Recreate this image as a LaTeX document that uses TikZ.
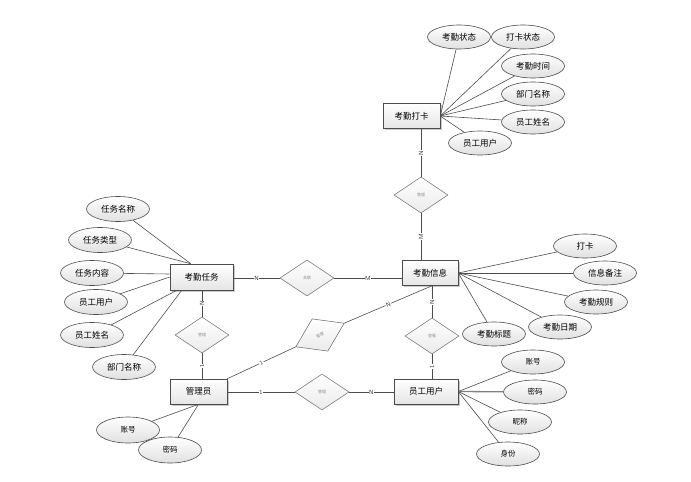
\documentclass[tikz,border=0pt]{standalone}
\usepackage{fontspec}
\setmainfont{Noto Sans CJK SC}
\usetikzlibrary{shapes.geometric,shadows,calc}
\begin{document}
\begin{tikzpicture}[x=1pt,y=-1pt,
  entity/.style={draw=black!70, line width=0.6pt, rectangle, minimum height=25pt, inner sep=0pt,
    top color=white, bottom color=black!10,
    drop shadow={shadow xshift=1.5pt,shadow yshift=-1.5pt,fill=black!35,opacity=0.6},
    font=\fontsize{8.5}{9}\selectfont},
  attr/.style={ellipse, draw=black!70, line width=0.6pt, minimum width=63pt, minimum height=24pt, inner sep=0pt,
    top color=white, bottom color=black!12, font=\fontsize{8.5}{9}\selectfont},
  sattr/.style={attr, font=\fontsize{7.5}{8}\selectfont},
  rel/.style={diamond, draw=black!60, line width=0.5pt, minimum width=54pt, minimum height=36pt, inner sep=0pt,
    top color=white, bottom color=black!8, font=\fontsize{4}{4}\selectfont, text=black!45},
  card/.style={fill=white, inner sep=0.6pt, font=\sffamily\fontsize{6}{6}\selectfont, text=black!80},
  conn/.style={draw=black!70, line width=0.6pt}
]
\useasboundingbox (0,0) rectangle (691,482);

% entities
\node[entity, minimum width=57pt] (kqdk) at (411.5,116) {考勤打卡};
\node[entity, minimum width=56pt] (kqxx) at (430,273) {考勤信息};
\node[entity, minimum width=63pt, minimum height=26pt] (kqrw) at (201.5,277) {考勤任务};
\node[entity, minimum width=57pt] (gly) at (198.5,391.5) {管理员};
\node[entity, minimum width=64pt] (ygyh) at (426,391.5) {员工用户};

% relationships
\node[rel] (d1) at (421,195) {管理};
\node[rel] (d2) at (307,278) {关联};
\node[rel] (d3) at (202,335) {管理};
\node[rel, rotate=26] (d4) at (320,335) {管理};
\node[rel] (d5) at (432,336) {查看};
\node[rel] (d6) at (322,392) {管理};

\coordinate (kqxxb) at ($(kqxx.south)+(2,0)$);

% relationship connectors
\draw[conn] (d1.north |- kqdk.south) -- node[card, rotate=90] {N} (d1.north);
\draw[conn] (d1.south) -- node[card, rotate=90] {M} (d1.south |- kqxx.north);
\draw[conn] (d2.west -| kqrw.east) -- node[card] {N} (d2.west);
\draw[conn] (d2.east) -- node[card] {M} (d2.east -| kqxx.west);
\draw[conn] (d3.north |- kqrw.south) -- node[card, rotate=90] {N} (d3.north);
\draw[conn] (d3.south) -- node[card, rotate=90] {1} (d3.south |- gly.north);
\draw[conn] (gly.north east) -- node[card, rotate=26.6] {1} (d4.west);
\draw[conn] (d4.east) -- node[card, rotate=23.4] {N} (kqxxb);
\draw[conn] (d5.north |- kqxx.south) -- node[card, rotate=90] {N} (d5.north);
\draw[conn] (d5.south) -- node[card, rotate=90] {1} (d5.south |- ygyh.north);
\draw[conn] (d6.west -| gly.east) -- node[card] {1} (d6.west);
\draw[conn] (d6.east) -- node[card] {N} (d6.east -| ygyh.west);

% attributes of 考勤打卡
\node[attr] (a1) at (459,37) {考勤状态};
\node[attr] (a2) at (523,37) {打卡状态};
\node[attr] (a3) at (533,66) {考勤时间};
\node[attr] (a4) at (533,94) {部门名称};
\node[attr] (a5) at (533,122) {员工姓名};
\node[attr] (a6) at (480,143) {员工用户};
\foreach \t in {a1,a2,a3,a4,a5,a6} \draw[conn] (kqdk.east) -- (\t);

% attributes of 考勤信息
\node[attr] (b1) at (585,246) {打卡};
\node[attr] (b2) at (605,273) {信息备注};
\node[attr] (b3) at (596,302) {考勤规则};
\node[attr] (b4) at (560,327) {考勤日期};
\node[attr] (b5) at (494,334) {考勤标题};
\foreach \t in {b1,b2,b3,b4,b5} \draw[conn] (kqxx.east) -- (\t);

% attributes of 考勤任务
\node[attr, minimum height=25pt] (c1) at (118,209) {任务名称};
\node[attr, minimum height=25pt] (c2) at (100,240) {任务类型};
\node[attr, minimum height=25pt] (c3) at (92,273) {任务内容};
\node[attr, minimum height=25pt] (c4) at (96,302) {员工用户};
\node[attr, minimum height=25pt] (c5) at (92,335) {员工姓名};
\node[attr, minimum height=25pt] (c6) at (124,367) {部门名称};
\coordinate (kqrwt) at ($(kqrw.north west)+(21,0)$);
\coordinate (kqrwl) at ($(kqrw.west)+(0,-3)$);
\coordinate (kqrwb1) at ($(kqrw.south west)+(7,0)$);
\coordinate (kqrwb2) at ($(kqrw.south west)+(12,0)$);
\draw[conn] (kqrwt) -- (c1);
\draw[conn] (kqrwt) -- (c2);
\draw[conn] (kqrwl) -- (c3);
\draw[conn] (kqrw.west) -- (c4);
\draw[conn] (kqrwb1) -- (c5);
\draw[conn] (kqrwb2) -- (c6);

% attributes of 管理员
\node[sattr, minimum height=26pt] (e1) at (128,430) {账号};
\node[sattr, minimum height=26pt] (e2) at (170,450) {密码};
\draw[conn] (gly.south) -- (e1);
\draw[conn] (gly.south) -- (e2);

% attributes of 员工用户
\node[sattr] (f1) at (533,362) {账号};
\node[sattr] (f2) at (535,392) {密码};
\node[sattr] (f3) at (520,422) {昵称};
\node[sattr] (f4) at (508,454) {身份};
\draw[conn] (ygyh.east) -- (f1);
\draw[draw=black!50, line width=1.3pt] (ygyh.east) -- (f2);
\draw[conn] (ygyh.east) -- (f3);
\draw[conn] (ygyh.east) -- (f4);
\end{tikzpicture}
\end{document}
